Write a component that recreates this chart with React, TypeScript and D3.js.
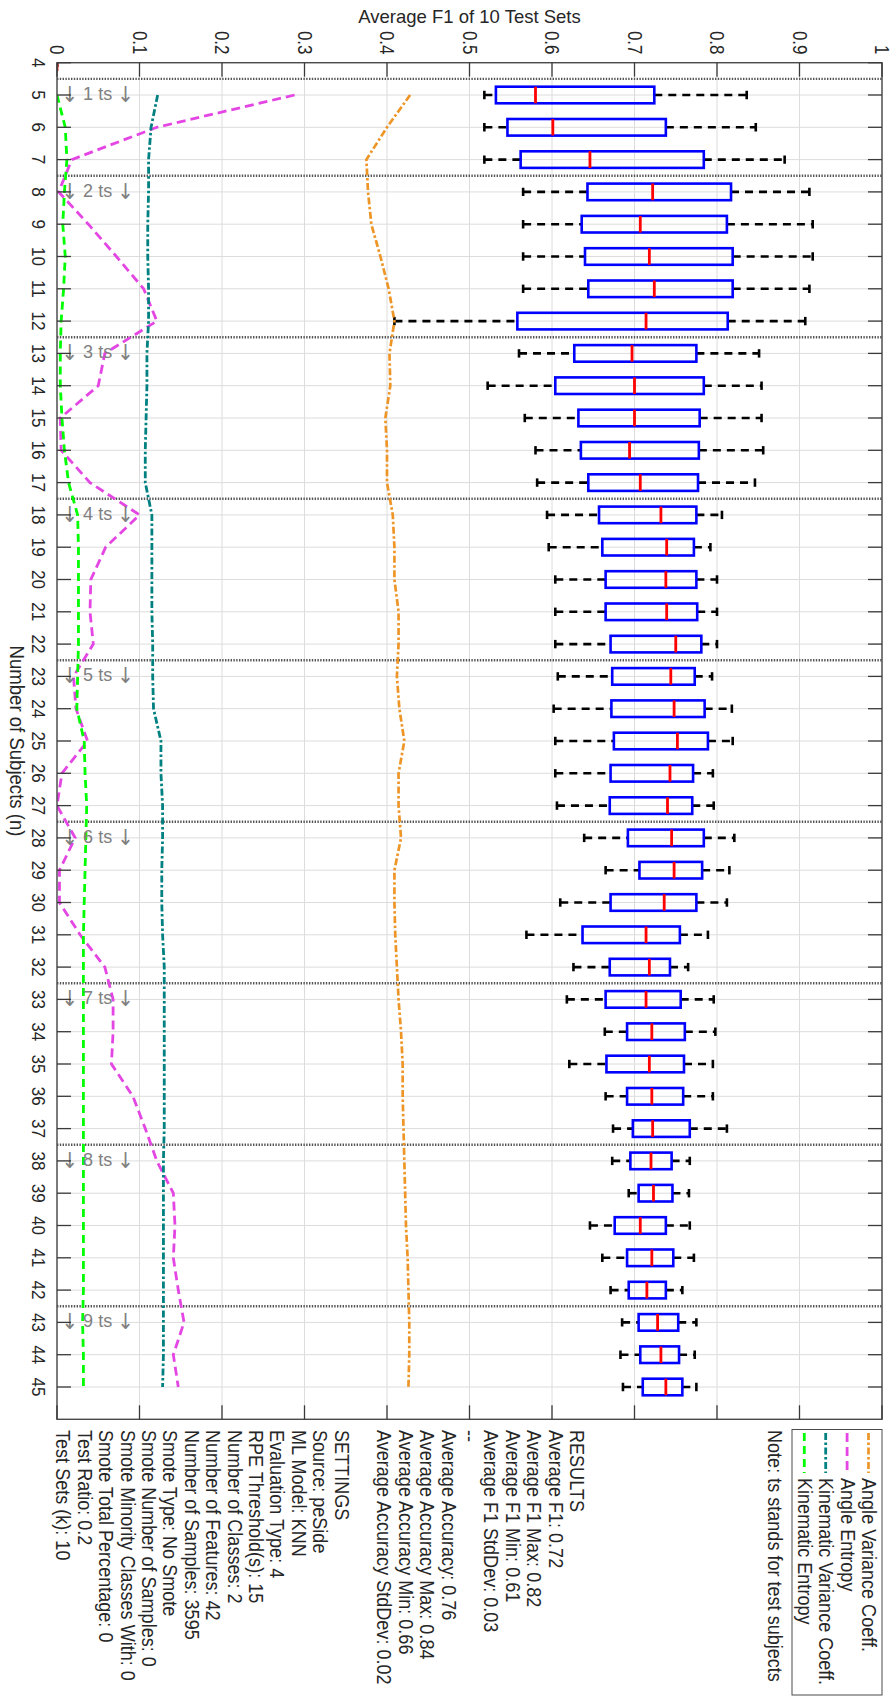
import React from "react";
import * as d3 from "d3";

const W = 893;
const H = 1699;
const FONT = "'Liberation Sans', Arial, Helvetica, sans-serif";

// Boxplot positions (number of subjects)
const subjects = [4, 5, 6, 7, 8, 9, 10, 11, 12, 13, 14, 15, 16, 17, 18, 19, 20, 21, 22, 23, 24, 25, 26, 27, 28, 29, 30, 31, 32, 33, 34, 35, 36, 37, 38, 39, 40, 41, 42, 43, 44, 45];
const whiskerLow = [0, 0.518, 0.518, 0.518, 0.565, 0.565, 0.565, 0.565, 0.409, 0.560, 0.522, 0.567, 0.580, 0.582, 0.594, 0.596, 0.604, 0.604, 0.604, 0.607, 0.602, 0.604, 0.604, 0.606, 0.639, 0.665, 0.610, 0.569, 0.626, 0.618, 0.664, 0.621, 0.665, 0.674, 0.673, 0.693, 0.646, 0.661, 0.671, 0.685, 0.683, 0.686];
const quart1 = [0, 0.532, 0.546, 0.562, 0.643, 0.636, 0.640, 0.644, 0.558, 0.627, 0.604, 0.632, 0.635, 0.644, 0.657, 0.661, 0.665, 0.665, 0.671, 0.673, 0.672, 0.675, 0.671, 0.670, 0.692, 0.706, 0.671, 0.637, 0.670, 0.665, 0.691, 0.666, 0.691, 0.698, 0.695, 0.705, 0.676, 0.691, 0.693, 0.705, 0.707, 0.710];
const medians = [0, 0.580, 0.601, 0.646, 0.722, 0.707, 0.718, 0.724, 0.714, 0.697, 0.700, 0.700, 0.694, 0.707, 0.732, 0.739, 0.738, 0.739, 0.750, 0.744, 0.748, 0.752, 0.743, 0.740, 0.745, 0.748, 0.736, 0.714, 0.718, 0.714, 0.721, 0.718, 0.721, 0.722, 0.720, 0.723, 0.707, 0.721, 0.715, 0.728, 0.732, 0.738];
const quart3 = [0, 0.724, 0.738, 0.784, 0.817, 0.812, 0.819, 0.819, 0.813, 0.775, 0.784, 0.779, 0.778, 0.777, 0.775, 0.772, 0.775, 0.776, 0.781, 0.773, 0.785, 0.789, 0.771, 0.770, 0.784, 0.782, 0.775, 0.755, 0.743, 0.756, 0.761, 0.760, 0.759, 0.767, 0.745, 0.746, 0.738, 0.747, 0.738, 0.753, 0.754, 0.758];
const whiskerHigh = [0, 0.836, 0.847, 0.882, 0.912, 0.916, 0.916, 0.912, 0.907, 0.851, 0.854, 0.854, 0.856, 0.846, 0.806, 0.792, 0.800, 0.800, 0.800, 0.794, 0.818, 0.819, 0.795, 0.796, 0.821, 0.815, 0.812, 0.789, 0.765, 0.796, 0.798, 0.795, 0.795, 0.812, 0.767, 0.766, 0.767, 0.772, 0.758, 0.775, 0.773, 0.775];

// Line series (n = 5..45)
const lineSubjects = [5, 6, 7, 8, 9, 10, 11, 12, 13, 14, 15, 16, 17, 18, 19, 20, 21, 22, 23, 24, 25, 26, 27, 28, 29, 30, 31, 32, 33, 34, 35, 36, 37, 38, 39, 40, 41, 42, 43, 44, 45];
const angleVarianceCoeff = [0.428, 0.400, 0.375, 0.377, 0.381, 0.392, 0.402, 0.409, 0.403, 0.404, 0.398, 0.400, 0.400, 0.407, 0.409, 0.409, 0.414, 0.414, 0.412, 0.415, 0.421, 0.414, 0.414, 0.417, 0.409, 0.409, 0.410, 0.412, 0.414, 0.417, 0.419, 0.419, 0.420, 0.421, 0.422, 0.423, 0.425, 0.426, 0.427, 0.427, 0.426];
const angleEntropy = [0.288, 0.121, 0.018, 0.002, 0.038, 0.072, 0.105, 0.121, 0.058, 0.050, 0.004, 0.005, 0.040, 0.100, 0.059, 0.041, 0.040, 0.044, 0.020, 0.023, 0.037, 0.006, 0.000, 0.022, 0.003, 0.003, 0.028, 0.058, 0.068, 0.068, 0.066, 0.092, 0.107, 0.121, 0.141, 0.143, 0.141, 0.147, 0.154, 0.141, 0.147];
const kinematicVarianceCoeff = [0.122, 0.114, 0.111, 0.111, 0.110, 0.110, 0.111, 0.111, 0.109, 0.109, 0.108, 0.107, 0.107, 0.115, 0.115, 0.115, 0.115, 0.116, 0.116, 0.117, 0.126, 0.126, 0.128, 0.128, 0.127, 0.127, 0.128, 0.130, 0.130, 0.130, 0.130, 0.130, 0.130, 0.129, 0.129, 0.129, 0.129, 0.129, 0.129, 0.129, 0.128];
const kinematicEntropy = [0.000, 0.010, 0.012, 0.009, 0.007, 0.010, 0.008, 0.005, 0.004, 0.004, 0.006, 0.009, 0.014, 0.025, 0.026, 0.026, 0.026, 0.026, 0.025, 0.024, 0.033, 0.034, 0.036, 0.035, 0.034, 0.033, 0.032, 0.032, 0.032, 0.032, 0.032, 0.032, 0.032, 0.032, 0.032, 0.032, 0.032, 0.032, 0.031, 0.032, 0.032];

const f1Ticks = [0, 0.1, 0.2, 0.3, 0.4, 0.5, 0.6, 0.7, 0.8, 0.9, 1];
const f1TickLabels = ["0", "0.1", "0.2", "0.3", "0.4", "0.5", "0.6", "0.7", "0.8", "0.9", "1"];

const separators = [4.5, 7.5, 12.5, 17.5, 22.5, 27.5, 32.5, 37.5, 42.5];
const tsLabelPos = [5, 8, 13, 18, 23, 28, 33, 38, 43];
const tsCounts = ["1", "2", "3", "4", "5", "6", "7", "8", "9"];

const seriesNames = ["Angle Variance Coeff.", "Angle Entropy", "Kinematic Variance Coeff.", "Kinematic Entropy"];
const seriesColors = ["#EE9527", "#E446E4", "#008080", "#00FF00"];
const seriesDash = ["7,2.5,2.5,2.5", "9,5", "7,2.5,2.5,2.5", "8,5"];
const seriesWidth = [2.7, 2.8, 2.8, 2.8];

const annotationLines = [
  "RESULTS",
  "Average F1: 0.72",
  "Average F1 Max: 0.82",
  "Average F1 Min: 0.61",
  "Average F1 StdDev: 0.03",
  "--",
  "Average Accuracy: 0.76",
  "Average Accuracy Max: 0.84",
  "Average Accuracy Min: 0.66",
  "Average Accuracy StdDev: 0.02",
  "",
  "SETTINGS",
  "Source: peSide",
  "ML Model: KNN",
  "Evaluation Type: 4",
  "RPE Threshold(s): 15",
  "Number of Classes: 2",
  "Number of Features: 42",
  "Number of Samples: 3595",
  "Smote Type: No Smote",
  "Smote Number of Samples: 0",
  "Smote Minority Classes With: 0",
  "Smote Total Percentage: 0",
  "Test Ratio: 0.2",
  "Test Sets (k): 10",
];

const X0 = 57, X1 = 882, Y0 = 62.7, Y1 = 1419.3;

function RText(props: { x: number; y: number; size: number; sx?: number; anchor?: string; fill?: string; children: any }) {
  const { x, y, size, sx = 0.87, anchor = "start", fill = "#262626", children } = props;
  return (
    <text
      transform={`translate(${x},${y}) rotate(90) scale(${sx},1)`}
      fontSize={size}
      textAnchor={anchor as any}
      fill={fill}
      fontFamily={FONT}
    >
      {children}
    </text>
  );
}

export default function App() {
  const x = d3.scaleLinear().domain([0, 1]).range([X0, X1]);
  const y = d3.scaleLinear().domain([4, 46]).range([Y0, Y1]);
  const series = [angleVarianceCoeff, angleEntropy, kinematicVarianceCoeff, kinematicEntropy];
  const line = d3
    .line<number>()
    .x((d) => x(d))
    .y((_d, i) => y(lineSubjects[i]));
  const boxHalf = 8.3;
  const capHalf = 4.2;

  return (
    <svg
      width={W}
      height={H}
      style={{ position: "absolute", left: 0, top: 0, background: "#fff", display: "block" }}
    >
      <rect x={0} y={0} width={W} height={H} fill="#fff" />
      <defs>
        <clipPath id="plotClip">
          <rect x={X0} y={Y0} width={X1 - X0} height={Y1 - Y0} />
        </clipPath>
      </defs>

      {/* Title */}
      <text x={(X0 + X1) / 2} y={22.5} fontSize={18.5} textAnchor="middle" fill="#262626" fontFamily={FONT}>
        Average F1 of 10 Test Sets
      </text>

      {/* Grid */}
      <g stroke="#dcdcdc" strokeWidth={1}>
        {f1Ticks.map((t, i) => (
          <line key={"gv" + i} x1={x(t)} x2={x(t)} y1={Y0} y2={Y1} />
        ))}
        {subjects.map((s) => (
          <line key={"gh" + s} x1={X0} x2={X1} y1={y(s)} y2={y(s)} />
        ))}
      </g>

      {/* Separators */}
      <g stroke="#555" strokeWidth={2.4} strokeDasharray="1.4,1.4">
        {separators.map((s) => (
          <line key={"sep" + s} x1={X0} x2={X1} y1={y(s)} y2={y(s)} />
        ))}
      </g>

      {/* Boxplots */}
      <g clipPath="url(#plotClip)">
        {subjects.map((s, i) => {
          const cy = y(s);
          return (
            <g key={"box" + s}>
              <line x1={x(whiskerLow[i])} x2={x(quart1[i])} y1={cy} y2={cy} stroke="#000" strokeWidth={2.6} strokeDasharray="8,6" />
              <line x1={x(quart3[i])} x2={x(whiskerHigh[i])} y1={cy} y2={cy} stroke="#000" strokeWidth={2.6} strokeDasharray="8,6" />
              <line x1={x(whiskerLow[i])} x2={x(whiskerLow[i])} y1={cy - capHalf} y2={cy + capHalf} stroke="#000" strokeWidth={2.6} />
              <line x1={x(whiskerHigh[i])} x2={x(whiskerHigh[i])} y1={cy - capHalf} y2={cy + capHalf} stroke="#000" strokeWidth={2.6} />
              <rect
                x={x(quart1[i])}
                y={cy - boxHalf}
                width={x(quart3[i]) - x(quart1[i])}
                height={boxHalf * 2}
                fill="none"
                stroke="#0000FF"
                strokeWidth={2.6}
              />
              <line x1={x(medians[i])} x2={x(medians[i])} y1={cy - boxHalf} y2={cy + boxHalf} stroke="#FF0000" strokeWidth={2.8} />
            </g>
          );
        })}
      </g>

      {/* Lines */}
      <g clipPath="url(#plotClip)">
        {series.map((vals, k) => (
          <path
            key={"ln" + k}
            d={line(vals) || ""}
            fill="none"
            stroke={seriesColors[k]}
            strokeWidth={seriesWidth[k]}
            strokeDasharray={seriesDash[k]}
          />
        ))}
      </g>

      {/* ts labels */}
      {tsLabelPos.map((p, i) => (
        <text
          key={"ts" + i}
          x={61.5}
          y={y(p) - 1}
          dominantBaseline="central"
          fontSize={18}
          fill="#808080"
          fontFamily={FONT}
        >
          <tspan fontSize={22} fontFamily="'DejaVu Sans Condensed', 'DejaVu Sans', sans-serif" fontWeight={200}>↓</tspan>
          <tspan> {tsCounts[i]} ts </tspan>
          <tspan fontSize={22} fontFamily="'DejaVu Sans Condensed', 'DejaVu Sans', sans-serif" fontWeight={200}>↓</tspan>
        </text>
      ))}

      {/* Axes box */}
      <rect x={X0} y={Y0} width={X1 - X0} height={Y1 - Y0} fill="none" stroke="#4a4a4a" strokeWidth={1.4} />

      {/* Ticks */}
      <g stroke="#3a3a3a" strokeWidth={1.3}>
        {f1Ticks.map((t, i) => (
          <g key={"tt" + i}>
            <line x1={x(t)} x2={x(t)} y1={Y0} y2={Y0 + 14} />
            <line x1={x(t)} x2={x(t)} y1={Y1} y2={Y1 - 14} />
          </g>
        ))}
        {subjects.map((s) => (
          <g key={"st" + s}>
            <line x1={X0} x2={X0 + 14} y1={y(s)} y2={y(s)} />
            <line x1={X1} x2={X1 - 14} y1={y(s)} y2={y(s)} />
          </g>
        ))}
      </g>

      {/* Tick labels */}
      {f1Ticks.map((t, i) => (
        <RText key={"tl" + i} x={x(t) - 7} y={54.5} size={19.5} sx={0.87} anchor="end">
          {f1TickLabels[i]}
        </RText>
      ))}
      {subjects.map((s) => (
        <RText key={"sl" + s} x={31.7} y={y(s)} size={19} sx={0.9} anchor="middle">
          {String(s)}
        </RText>
      ))}

      {/* Axis label */}
      <RText x={10} y={(Y0 + Y1) / 2} size={21} sx={0.885} anchor="middle">
        Number of Subjects (n)
      </RText>

      {/* Annotation text */}
      {annotationLines.map((t, i) =>
        t ? (
          <RText key={"an" + i} x={570 - 21.4 * i} y={1430} size={21} sx={0.86}>
            {t}
          </RText>
        ) : null
      )}

      {/* Note */}
      <RText x={768} y={1430} size={21} sx={0.86}>
        Note: ts stands for test subjects
      </RText>

      {/* Legend */}
      <rect x={792} y={1429.5} width={X1 - 792} height={1695 - 1429.5} fill="#fff" stroke="#4a4a4a" strokeWidth={1} />
      {seriesNames.map((name, k) => {
        const bx = 862 - 21.4 * k;
        return (
          <g key={"lg" + k}>
            <line
              x1={bx + 6.5}
              x2={bx + 6.5}
              y1={1433}
              y2={1473}
              stroke={seriesColors[k]}
              strokeWidth={seriesWidth[k]}
              strokeDasharray={seriesDash[k]}
            />
            <RText x={bx} y={1478} size={21} sx={0.86}>
              {name}
            </RText>
          </g>
        );
      })}
    </svg>
  );
}
